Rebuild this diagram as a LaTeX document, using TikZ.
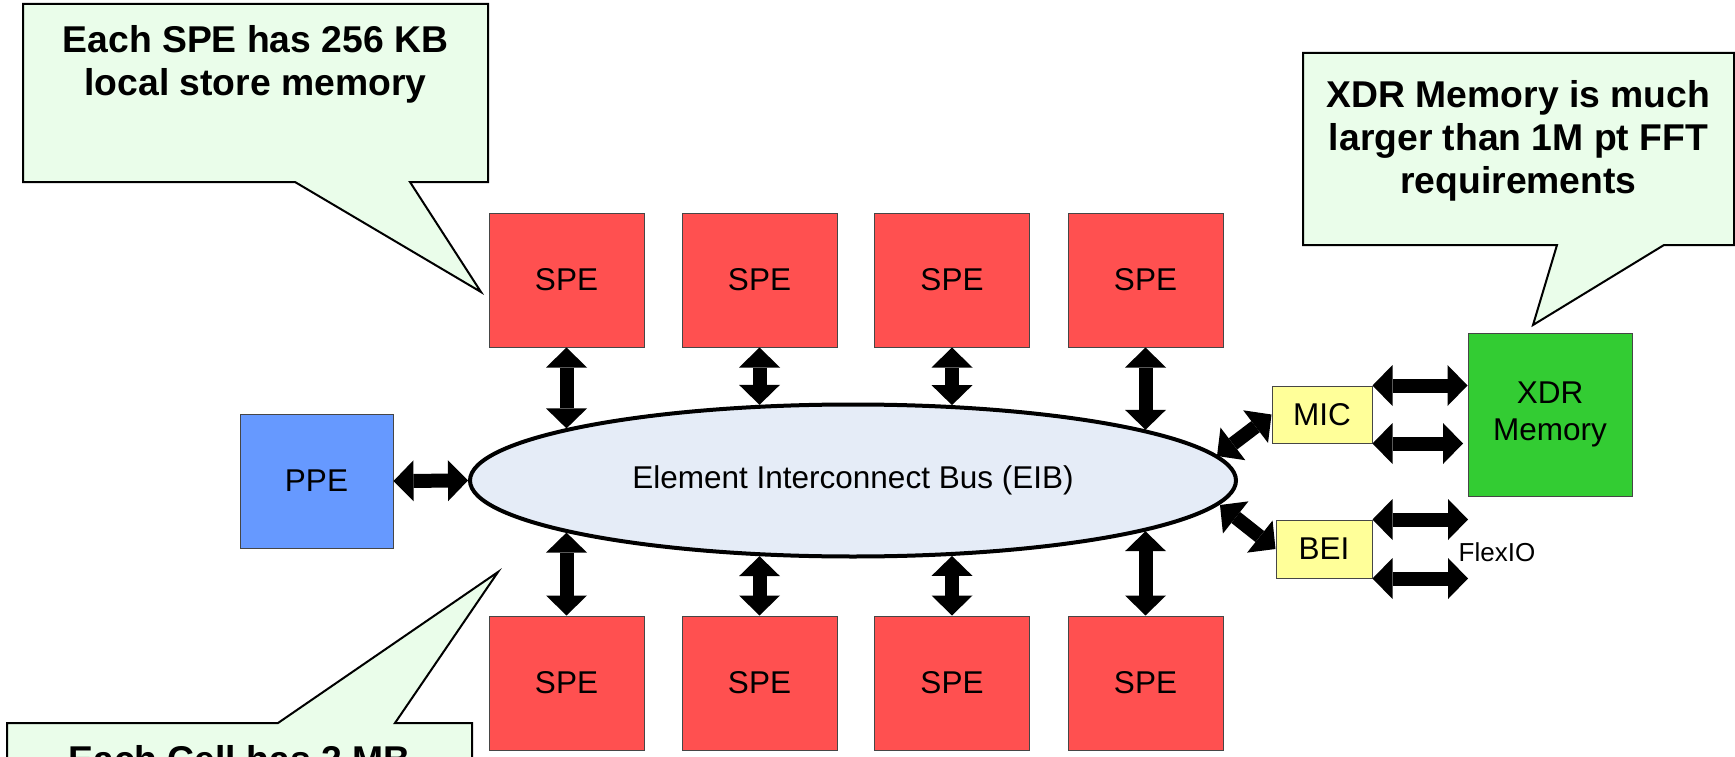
\documentclass[tikz,border=0pt]{standalone}
\usepackage{fontspec}
\setmainfont{Liberation Sans}
\usetikzlibrary{arrows.meta,shapes.geometric}
\definecolor{spered}{RGB}{255,80,80}
\definecolor{ppeblue}{RGB}{102,153,255}
\definecolor{xdrgreen}{RGB}{51,204,51}
\definecolor{iface}{RGB}{255,255,153}
\definecolor{busfill}{RGB}{229,236,247}
\definecolor{notefill}{RGB}{234,253,234}
\definecolor{boxline}{RGB}{70,70,70}
\begin{document}
\begin{tikzpicture}[x=1pt,y=-1pt,
  unit/.style={draw=boxline, line width=1pt, inner sep=0pt, outer sep=0.5pt,
    font=\fontsize{31.5}{37}\selectfont, align=center},
  spebox/.style={unit, fill=spered, minimum width=155pt, minimum height=134pt},
  ifbox/.style={unit, fill=iface},
  link/.style={line width=14pt, >={Triangle[length=20pt,width=41pt,line width=0pt]}, <->},
  note/.style={draw=black, line width=2pt, fill=notefill, line join=miter},
  notetext/.style={font=\bfseries\fontsize{37.3}{43}\selectfont, align=center, anchor=north, inner sep=0pt}
]
\fill[white] (0,0) rectangle (1735,757);
\useasboundingbox (0,0) rectangle (1735,757);
\clip (0,0) rectangle (1735,757);

% callouts
\draw[note] (23,4) -- (488,4) -- (488,182) -- (410,182) -- (481,292) -- (295,182) -- (23,182) -- cycle;
\node[notetext] (n1) at (255.5,25) {Each SPE has 256 KB\\local store memory};

\draw[note] (1303,53) -- (1734,53) -- (1734,245) -- (1664,245) -- (1533,325) -- (1557,245) -- (1303,245) -- cycle;
\node[notetext] (n2) at (1518.5,80) {XDR Memory is much\\larger than 1M pt FFT\\requirements};

\draw[note] (7,723) -- (278,723) -- (498,572) -- (395,723) -- (472,723) -- (472,800) -- (7,800) -- cycle;
\node[notetext] (n3) at (239.5,745) {Each Cell has 2 MB};

% units
\node[spebox] (s1) at (566.5,280) {SPE};
\node[spebox] (s2) at (759.5,280) {SPE};
\node[spebox] (s3) at (952,280) {SPE};
\node[spebox] (s4) at (1145.5,280) {SPE};
\node[spebox] (s5) at (566.5,683) {SPE};
\node[spebox] (s6) at (759.5,683) {SPE};
\node[spebox] (s7) at (952,683) {SPE};
\node[spebox] (s8) at (1145.5,683) {SPE};
\node[unit, fill=ppeblue, minimum width=153pt, minimum height=134pt] (ppe) at (316.5,481) {PPE};
\node[ellipse, draw=black, line width=4pt, fill=busfill, minimum width=766pt, minimum height=152pt,
  inner sep=0pt, outer sep=2pt, font=\fontsize{31.5}{37}\selectfont] (eib) at (853,480.5) {Element Interconnect Bus (EIB)};
\node[ifbox, minimum width=100pt, minimum height=57pt] (mic) at (1322,414.5) {MIC};
\node[ifbox, minimum width=96pt, minimum height=58pt] (bei) at (1324,549) {BEI};
\node[unit, fill=xdrgreen, minimum width=164pt, minimum height=163pt] (xdr) at (1550,414.5) {XDR\\Memory};
\node[font=\fontsize{26}{30}\selectfont, inner sep=0pt] (flex) at (1497,552) {FlexIO};

% points on the bus outline
\coordinate (e1) at (566.5,428.4);
\coordinate (e2) at (759.5,404.8);
\coordinate (e3) at (952,405.1);
\coordinate (e4) at (1145.5,429.8);
\coordinate (e5) at (566.5,532.6);
\coordinate (e6) at (759.5,556.2);
\coordinate (e7) at (952,555.9);
\coordinate (e8) at (1145.5,531.2);
\coordinate (em) at (1217,456);
\coordinate (eb) at (1220,505);
\coordinate (m2) at (1463,443.5);
\coordinate (f1) at (1468,519.5);
\coordinate (f2) at (1468,578.5);

% connectors
\draw[link] (s1.south) -- (e1);
\draw[link] (s2.south) -- (e2);
\draw[link] (s3.south) -- (e3);
\draw[link] (s4.south) -- (e4);
\draw[link] (s5.north) -- (e5);
\draw[link] (s6.north) -- (e6);
\draw[link] (s7.north) -- (e7);
\draw[link] (s8.north) -- (e8);
\draw[link] (ppe.east) -- (eib.west);
\draw[link] (em) -- (mic.west);
\draw[link] (eb) -- (bei.west);
\draw[link] (mic.north east) -- (xdr.west |- mic.north east);
\draw[link] (mic.south east) -- (m2);
\draw[link] (bei.north east) -- (f1);
\draw[link] (bei.south east) -- (f2);
\end{tikzpicture}
\end{document}
